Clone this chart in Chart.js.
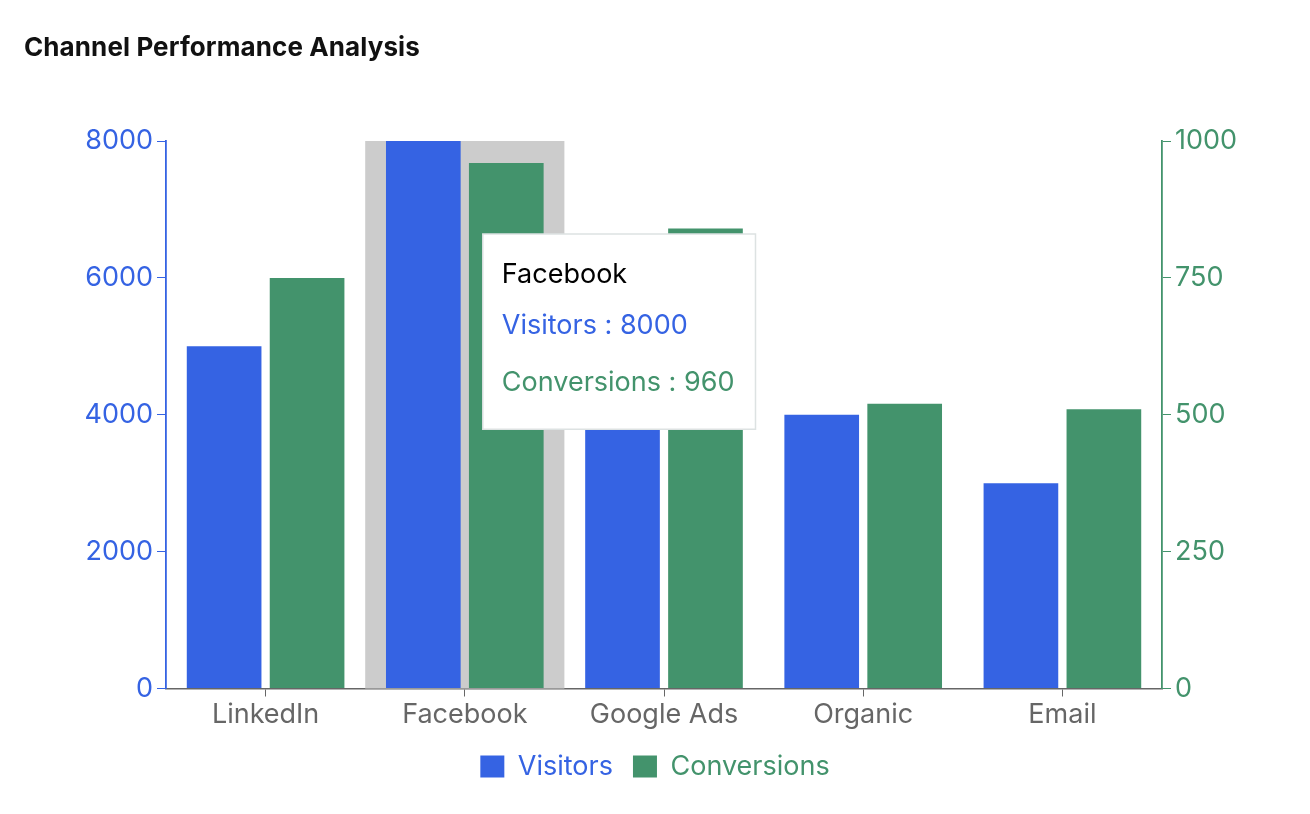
<!DOCTYPE html>
<html><head><meta charset="utf-8">
<script src="https://cdn.jsdelivr.net/npm/chart.js@4.4.0/dist/chart.umd.min.js"></script>
<style>
html,body{margin:0;padding:0;background:#fff;}
#wrap{position:relative;width:1310px;height:814px;}
#title{position:absolute;left:24px;top:31px;font:700 26px Inter, sans-serif;color:#111;white-space:nowrap;letter-spacing:0.1px;}
canvas{position:absolute;left:0;top:0;}
</style></head><body>
<div id="wrap"><canvas id="c" width="1310" height="814"></canvas><div id="title">Channel Performance Analysis</div></div>
<script>
const categories = ['LinkedIn', 'Facebook', 'Google Ads', 'Organic', 'Email'];
const visitors = [5000, 8000, 6000, 4000, 3000];
const conversions = [750, 960, 840, 520, 510];
const visitorTicks = [0, 2000, 4000, 6000, 8000];
const conversionTicks = [0, 250, 500, 750, 1000];
const hoverIndex = 1;

const BLUE = '#3563e3';
const GREEN = '#43936c';
const GRAY = '#666666';
const FONT = 'Inter, sans-serif';

const hoverBand = {
  id: 'hoverBand',
  beforeDatasetsDraw(chart) {
    const x = chart.scales.x, a = chart.chartArea, ctx = chart.ctx;
    const w = (a.right - a.left) / categories.length;
    const cx = x.getPixelForValue(hoverIndex);
    ctx.save();
    ctx.fillStyle = '#cccccc';
    ctx.fillRect(cx - w / 2, a.top, w, a.bottom - a.top);
    ctx.restore();
  }
};

Chart.Tooltip.positioners.besideBand = function(items) {
  const chart = this.chart;
  if (!items.length) return false;
  const x = chart.scales.x.getPixelForValue(items[0].index);
  return { x: x + 18, y: chart.chartArea.top + 93 };
};

const chart = new Chart(document.getElementById('c'), {
  type: 'bar',
  data: {
    labels: categories,
    datasets: [
      { label: 'Visitors', data: visitors, backgroundColor: BLUE, hoverBackgroundColor: BLUE, yAxisID: 'y', barPercentage: 0.9, categoryPercentage: 0.833 },
      { label: 'Conversions', data: conversions, backgroundColor: GREEN, hoverBackgroundColor: GREEN, yAxisID: 'y1', barPercentage: 0.9, categoryPercentage: 0.833 }
    ]
  },
  options: {
    responsive: false,
    animation: false,
    events: [],
    layout: { padding: { top: 141, left: 0, right: 0, bottom: 24 } },
    scales: {
      x: {
        grid: { drawOnChartArea: false, drawTicks: true, tickLength: 8, tickColor: GRAY, offset: false },
        border: { color: GRAY, width: 1.5 },
        ticks: { color: GRAY, font: { family: FONT, size: 27 }, padding: 2, maxRotation: 0 },
        afterFit(s) { s.height = 44.5; }
      },
      y: {
        position: 'left', min: 0, max: 8000,
        afterBuildTicks(s) { s.ticks = visitorTicks.map(v => ({ value: v })); },
        grid: { drawOnChartArea: false, drawTicks: true, tickLength: 9, tickColor: BLUE },
        border: { color: BLUE, width: 1.8 },
        ticks: { color: BLUE, font: { family: FONT, size: 27 }, padding: 4, callback: v => String(v) },
        afterFit(s) { s.width = 166; }
      },
      y1: {
        position: 'right', min: 0, max: 1000,
        afterBuildTicks(s) { s.ticks = conversionTicks.map(v => ({ value: v })); },
        grid: { drawOnChartArea: false, drawTicks: true, tickLength: 9, tickColor: GREEN },
        border: { color: GREEN, width: 1.8 },
        ticks: { color: GREEN, font: { family: FONT, size: 27 }, padding: 4, callback: v => String(v) },
        afterFit(s) { s.width = 148; }
      }
    },
    plugins: {
      title: { display: false },
      legend: {
        position: 'bottom',
        labels: {
          boxWidth: 24, boxHeight: 22, padding: 20,
          font: { family: FONT, size: 27 },
          generateLabels(chart) {
            return chart.data.datasets.map((ds, i) => ({
              text: ds.label, fillStyle: ds.backgroundColor, strokeStyle: ds.backgroundColor,
              lineWidth: 0, fontColor: ds.backgroundColor, datasetIndex: i, hidden: false
            }));
          }
        }
      },
      tooltip: {
        position: 'besideBand', xAlign: 'left', yAlign: 'top',
        backgroundColor: '#ffffff', borderColor: '#dde2e2', borderWidth: 1.5,
        cornerRadius: 0, caretSize: 0, caretPadding: 0, displayColors: false,
        titleColor: '#000000', titleFont: { family: FONT, size: 27, weight: 'normal' },
        bodyFont: { family: FONT, size: 27 },
        padding: { top: 25, left: 19, right: 21, bottom: 30 },
        titleMarginBottom: 18, bodySpacing: 25,
        callbacks: {
          label: ctx => ctx.dataset.label + ' : ' + ctx.parsed.y,
          labelTextColor: ctx => ctx.dataset.backgroundColor
        }
      }
    }
  },
  plugins: [hoverBand]
});

chart.tooltip.setActiveElements(
  [{ datasetIndex: 0, index: hoverIndex }, { datasetIndex: 1, index: hoverIndex }],
  { x: chart.scales.x.getPixelForValue(hoverIndex), y: chart.chartArea.top + 93 }
);
chart.draw();
</script>
</body></html>
